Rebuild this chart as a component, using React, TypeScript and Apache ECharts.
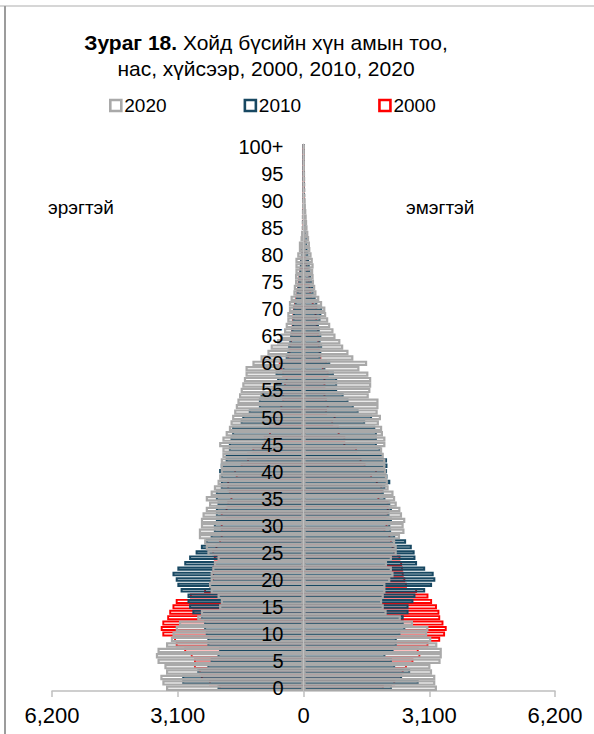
import React, { useEffect, useRef } from "react";
import * as echarts from "echarts";

// Age groups (categories)
const AGES: string[] = [...Array.from({ length: 100 }, (_, i) => String(i)), "100+"];

// Tick labels shown on the population axis
const X_TICKS = [-6200, -3100, 0, 3100, 6200];

const YEARS = ["2020", "2010", "2000"];
const COLORS: Record<string, string> = { "2020": "#a9a9a9", "2010": "#184862", "2000": "#ff0000" };

// Male population by single year of age (0 ... 100+)
const MALE_2020 = [
  3390, 3480, 3530, 3390, 3430, 3600, 3640, 3600, 3390, 3270,
  3230, 3150, 3070, 2620, 2530, 2080, 2040, 2120, 2290, 2330,
  2290, 2290, 2250, 2210, 2120, 2370, 2410, 2450, 2580, 2580,
  2530, 2530, 2490, 2410, 2330, 2410, 2290, 2210, 2120, 2080,
  2040, 2040, 2040, 2000, 2000, 2080, 2000, 1920, 1840, 1800,
  1760, 1710, 1670, 1630, 1590, 1550, 1510, 1470, 1430, 1430,
  1260, 1060, 890, 810, 650, 570, 480, 440, 400, 400,
  360, 360, 320, 250, 240, 210, 210, 200, 200, 200,
  155, 115, 115, 75, 60, 40, 35, 30, 25, 20,
  15, 12, 10, 8, 6, 5, 4, 3, 2, 2, 5,
];
const MALE_2010 = [
  2120, 2990, 2990, 2620, 2370, 2290, 2120, 2080, 2370, 2370,
  2410, 2450, 2450, 2530, 2740, 2820, 2860, 2860, 3030, 3110,
  3150, 3230, 3110, 2940, 2820, 2660, 2530, 2410, 2290, 2210,
  2210, 2160, 2160, 2160, 2120, 2160, 2160, 2040, 2040, 2040,
  2080, 2040, 1920, 1920, 1840, 1840, 1800, 1760, 1760, 1550,
  1510, 1350, 1100, 1100, 1060, 770, 690, 650, 690, 520,
  570, 440, 400, 380, 350, 330, 300, 280, 270, 260,
  250, 220, 190, 170, 150, 130, 115, 100, 90, 80,
  65, 55, 45, 38, 30, 25, 20, 15, 12, 9,
  7, 5, 4, 3, 2, 2, 1, 1, 1, 1, 3,
];
const MALE_2000 = [
  2080, 2330, 2530, 2580, 2700, 2700, 2780, 2940, 3150, 3190,
  3480, 3520, 3480, 3360, 3310, 3230, 3150, 2800, 2450, 2330,
  2250, 2250, 2250, 2210, 2210, 2250, 2170, 2080, 2040, 2040,
  2040, 1920, 2040, 1920, 1880, 1800, 1840, 1880, 1880, 1670,
  1710, 1550, 1390, 1390, 1260, 1020, 980, 850, 850, 730,
  690, 570, 570, 525, 525, 525, 480, 440, 525, 570,
  610, 400, 370, 350, 330, 320, 300, 290, 280, 270,
  260, 230, 200, 170, 150, 140, 120, 100, 80, 70,
  55, 45, 38, 30, 25, 20, 15, 12, 9, 7,
  5, 4, 3, 2, 2, 1, 1, 1, 1, 1, 2,
];

// Female population by single year of age (0 ... 100+)
const FEMALE_2020 = [
  3290, 3250, 3250, 3170, 3130, 3380, 3410, 3410, 3300, 3150,
  3050, 3080, 2700, 2400, 2050, 1980, 1940, 1980, 2020, 2020,
  2140, 2220, 2180, 2060, 2180, 2300, 2300, 2260, 2380, 2490,
  2470, 2510, 2430, 2390, 2300, 2260, 2220, 2100, 2080, 2060,
  2040, 2020, 2020, 1980, 1940, 2020, 2020, 1960, 1940, 1860,
  1910, 1830, 1850, 1850, 1610, 1650, 1670, 1670, 1600, 1380,
  1570, 1230, 1110, 980, 910, 790, 740, 660, 610, 560,
  540, 460, 390, 320, 290, 260, 250, 240, 250, 230,
  200, 170, 160, 140, 120, 100, 90, 80, 70, 60,
  55, 45, 40, 35, 30, 25, 20, 18, 15, 12, 20,
];
const FEMALE_2010 = [
  2180, 2840, 2430, 2630, 2260, 2180, 2020, 2220, 2300, 2300,
  2390, 2510, 2470, 2470, 2590, 2590, 2710, 2760, 3000, 3170,
  3250, 3210, 3000, 2800, 2760, 2740, 2670, 2530, 2260, 2160,
  2140, 2180, 2120, 2180, 2140, 2020, 1980, 2020, 2140, 2070,
  2060, 2070, 2060, 1940, 1900, 1810, 1810, 1810, 1770, 1520,
  1690, 1360, 1240, 1110, 990, 830, 830, 830, 750, 540,
  660, 420, 440, 460, 420, 440, 400, 380, 420, 440,
  460, 340, 300, 250, 240, 210, 190, 170, 155, 140,
  120, 100, 90, 80, 65, 55, 45, 40, 32, 26,
  20, 15, 12, 10, 8, 6, 5, 4, 3, 2, 5,
];
const FEMALE_2000 = [
  1980, 2260, 2430, 2470, 2550, 2710, 2880, 2840, 3080, 3370,
  3490, 3530, 3450, 3370, 3350, 3290, 3170, 3080, 2800, 2550,
  2510, 2470, 2450, 2430, 2390, 2260, 2220, 2180, 2140, 2020,
  2070, 2040, 2100, 2100, 2100, 1870, 1960, 1940, 1830, 1690,
  1810, 1530, 1430, 1390, 1320, 1030, 1030, 890, 870, 730,
  790, 580, 620, 580, 540, 540, 540, 540, 620, 500,
  580, 440, 420, 400, 390, 380, 380, 350, 340, 320,
  340, 250, 210, 190, 170, 155, 170, 130, 90, 75,
  60, 55, 50, 45, 40, 35, 30, 25, 20, 15,
  12, 10, 8, 6, 5, 4, 3, 2, 2, 1, 3,
];

const TITLE_BOLD = "Зураг 18.";
const TITLE_1 = " Хойд бүсийн хүн амын тоо,";
const TITLE_2 = "нас, хүйсээр, 2000, 2010, 2020";
const MALE_LABEL = "эрэгтэй";
const FEMALE_LABEL = "эмэгтэй";

const FONT = '"Liberation Sans", Arial, sans-serif';

const GRID_LEFT = 52;
const GRID_RIGHT = 39;
const CHART_W = 594;

function fmt(v: number): string {
  const s = String(Math.abs(v));
  return s.replace(/\B(?=(\d{3})+(?!\d))/g, ",");
}

export default function App() {
  const ref = useRef<HTMLDivElement>(null);

  useEffect(() => {
    const chart = echarts.init(ref.current!, null, { renderer: "svg" });

    // bar thickness / outline per year (outline is drawn inside the bar box)
    const BAR_W: Record<string, number> = { "2020": 5.4, "2010": 4.4, "2000": 5.0 };
    const BORDER: Record<string, number> = { "2020": 2.2, "2010": 2.0, "2000": 1.9 };

    const mk = (year: string, data: number[], male: boolean) => ({
      name: year,
      type: "bar",
      data: data.map((v) => (male ? -v : v)),
      barWidth: BAR_W[year],
      barGap: "-100%",
      silent: true,
      itemStyle: {
        color: "rgba(255,255,255,0)",
        borderColor: COLORS[year],
        borderWidth: BORDER[year],
      },
    });

    const series = [
      mk("2000", MALE_2000, true),
      mk("2000", FEMALE_2000, false),
      mk("2010", MALE_2010, true),
      mk("2010", FEMALE_2010, false),
      mk("2020", MALE_2020, true),
      mk("2020", FEMALE_2020, false),
    ];

    const plotW = CHART_W - GRID_LEFT - GRID_RIGHT;

    chart.setOption({
      animation: false,
      backgroundColor: "#ffffff",
      textStyle: { fontFamily: FONT },
      grid: {
        left: GRID_LEFT,
        right: GRID_RIGHT,
        top: 144,
        bottom: 43,
        containLabel: false,
        outerBoundsMode: "none",
      },
      legend: {
        data: YEARS.map((y) => ({
          name: y,
          icon: "rect",
          itemStyle: { color: "#ffffff", borderColor: COLORS[y], borderWidth: 2.6 },
        })),
        left: 104,
        top: 91,
        itemWidth: 11,
        itemHeight: 11,
        itemGap: 77,
        selectedMode: false,
        textStyle: { fontSize: 19, color: "#000", fontFamily: FONT, padding: [0, 0, 0, -2] },
      },
      xAxis: {
        type: "value",
        min: X_TICKS[0],
        max: X_TICKS[X_TICKS.length - 1],
        interval: 3100,
        splitLine: { show: false },
        axisLine: { show: true, lineStyle: { color: "#bfbfbf", width: 1.5 } },
        axisTick: { show: true, length: 6, lineStyle: { color: "#bfbfbf", width: 1.5 } },
        axisLabel: {
          formatter: (v: number) => fmt(v),
          fontSize: 22,
          color: "#000",
          margin: 13,
          fontFamily: FONT,
        },
      },
      yAxis: {
        type: "category",
        data: AGES,
        z: 10,
        position: "left",
        offset: -plotW / 2,
        axisLine: { show: true, onZero: false, lineStyle: { color: "#bfbfbf", width: 1 } },
        axisTick: { show: false },
        axisLabel: {
          interval: 4,
          fontSize: 20,
          color: "#000",
          margin: 20,
          fontFamily: FONT,
        },
      },
      graphic: [
        {
          type: "line",
          shape: { x1: 0, y1: 6, x2: 594, y2: 6 },
          style: { stroke: "#c8c8c8", lineWidth: 1.5 },
          silent: true,
        },
        {
          type: "line",
          shape: { x1: 5, y1: 6, x2: 5, y2: 734 },
          style: { stroke: "#9c9c9c", lineWidth: 2 },
          silent: true,
        },
        {
          type: "text",
          x: 266,
          y: 42,
          style: {
            text: "{b|" + TITLE_BOLD + "}" + TITLE_1,
            align: "center",
            verticalAlign: "middle",
            fontSize: 21,
            fontFamily: FONT,
            fill: "#000",
            rich: { b: { fontWeight: "bold", fontSize: 21, fontFamily: FONT, fill: "#000" } },
          },
          silent: true,
        },
        {
          type: "text",
          x: 266,
          y: 68,
          style: {
            text: TITLE_2,
            align: "center",
            verticalAlign: "middle",
            fontSize: 21,
            fontFamily: FONT,
            fill: "#000",
          },
          silent: true,
        },
        {
          type: "text",
          x: 48,
          y: 207,
          style: {
            text: MALE_LABEL,
            align: "left",
            verticalAlign: "middle",
            fontSize: 19,
            fontFamily: FONT,
            fill: "#000",
          },
          silent: true,
        },
        {
          type: "text",
          x: 406,
          y: 207,
          style: {
            text: FEMALE_LABEL,
            align: "left",
            verticalAlign: "middle",
            fontSize: 19,
            fontFamily: FONT,
            fill: "#000",
          },
          silent: true,
        },
      ],
      series,
    });

    return () => chart.dispose();
  }, []);

  return (
    <div
      ref={ref}
      style={{ position: "fixed", left: 0, top: 0, width: 594, height: 734 }}
    />
  );
}
